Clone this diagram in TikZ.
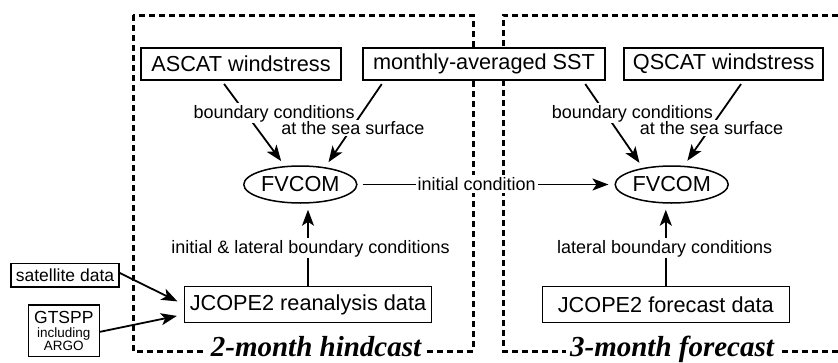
\documentclass[tikz,border=0pt]{standalone}
\usepackage{fontspec}
\setmainfont{Liberation Sans}
\newfontfamily\titlefont{Liberation Serif}
\usetikzlibrary{arrows.meta,shapes.geometric}
\begin{document}
\begin{tikzpicture}[x=1pt,y=-1pt,
  box/.style={draw, line width=1.5pt, fill=white, inner sep=0pt, font=\fontsize{21.7}{26}\selectfont},
  ell/.style={ellipse, draw, line width=1.5pt, fill=white, minimum width=113pt, minimum height=37pt, inner sep=0pt, font=\fontsize{21.7}{26}\selectfont},
  lab/.style={fill=white, inner sep=1.5pt, font=\fontsize{18}{21}\selectfont},
  arr/.style={line width=1.8pt, -{Stealth[length=16pt,width=12pt,inset=4pt]}, shorten >=6pt},
  frame/.style={line width=3pt, dash pattern=on 6pt off 4pt},
  title/.style={fill=white, inner xsep=4pt, inner ysep=0.5pt, font=\titlefont\bfseries\itshape\fontsize{29}{34}\selectfont}]
\useasboundingbox (0,0) rectangle (838,362);
% dashed frames
\draw[frame] (133,15) rectangle (473,351);
\draw[frame] (838,15) -- (503,15) -- (503,351) -- (838,351);
% boxes
\node[box, minimum width=200pt, minimum height=32pt] (ascat) at (241,64) {ASCAT windstress};
\node[box, minimum width=242pt, minimum height=32pt] (sst) at (484,64) {monthly-averaged SST};
\node[box, minimum width=199pt, minimum height=32pt] (qscat) at (723.7,64) {QSCAT windstress};
\node[ell] (fv1) at (300.3,184.5) {FVCOM};
\node[ell] (fv2) at (671.7,184.5) {FVCOM};
\node[box, minimum width=247pt, minimum height=36pt] (jr) at (308,304.5) {JCOPE2 reanalysis data};
\node[box, minimum width=247pt, minimum height=36pt] (jf) at (665.8,304.5) {JCOPE2 forecast data};
\node[box, minimum width=108pt, minimum height=23.5pt, font=\fontsize{17.5}{21}\selectfont] (sat) at (65,275) {satellite data};
\node[box, minimum width=71pt, minimum height=51.7pt, align=center, font=\fontsize{13.5}{13}\selectfont] (gtspp) at (63.8,330.8)
  {{\fontsize{17.5}{13}\selectfont GTSPP}\\[1pt]including\\ARGO};
% connectors
\draw[arr, shorten <=4pt] ([xshift=-19.3pt]ascat.south) -- (fv1.130);
\draw[arr, shorten <=4pt] ([xshift=-100pt]sst.south) -- (fv1.35);
\draw[arr, shorten <=4pt] ([xshift=99pt]sst.south) -- (fv2.150);
\draw[arr, shorten <=4pt] ([xshift=19.6pt]qscat.south) -- (fv2.57);
\draw[arr] (jr.north) -- (jr.north |- fv1.south);
\draw[arr] (jf.north) -- (jf.north |- fv2.south);
\draw[arr, shorten <=5pt] (fv1.east) -- (fv2.west);
\draw[arr, shorten >=7pt] ([yshift=2pt]sat.east) -- (jr.west);
\draw[arr, shorten >=7pt] ([yshift=-1pt]gtspp.east) -- ([yshift=-10pt]jr.west);
% labels
\node[lab, anchor=base] (bc1) at (274.2,118) {boundary conditions};
\node[lab, anchor=base] (ss1) at (352.8,134.5) {at the sea surface};
\node[lab, anchor=base] (bc2) at (632.3,118) {boundary conditions};
\node[lab, anchor=base] (ss2) at (711.5,134.5) {at the sea surface};
\node[lab, inner sep=2pt] (ic) at (476.6,184) {initial condition};
\node[lab, anchor=base] (ilb) at (310.5,253) {initial \& lateral boundary conditions};
\node[lab, anchor=base] (lb) at (664.7,253) {lateral boundary conditions};
% titles
\node[title, anchor=base] (t1) at (316,356.5) {2-month hindcast};
\node[title, anchor=base] (t2) at (672,356.5) {3-month forecast};
\end{tikzpicture}
\end{document}
